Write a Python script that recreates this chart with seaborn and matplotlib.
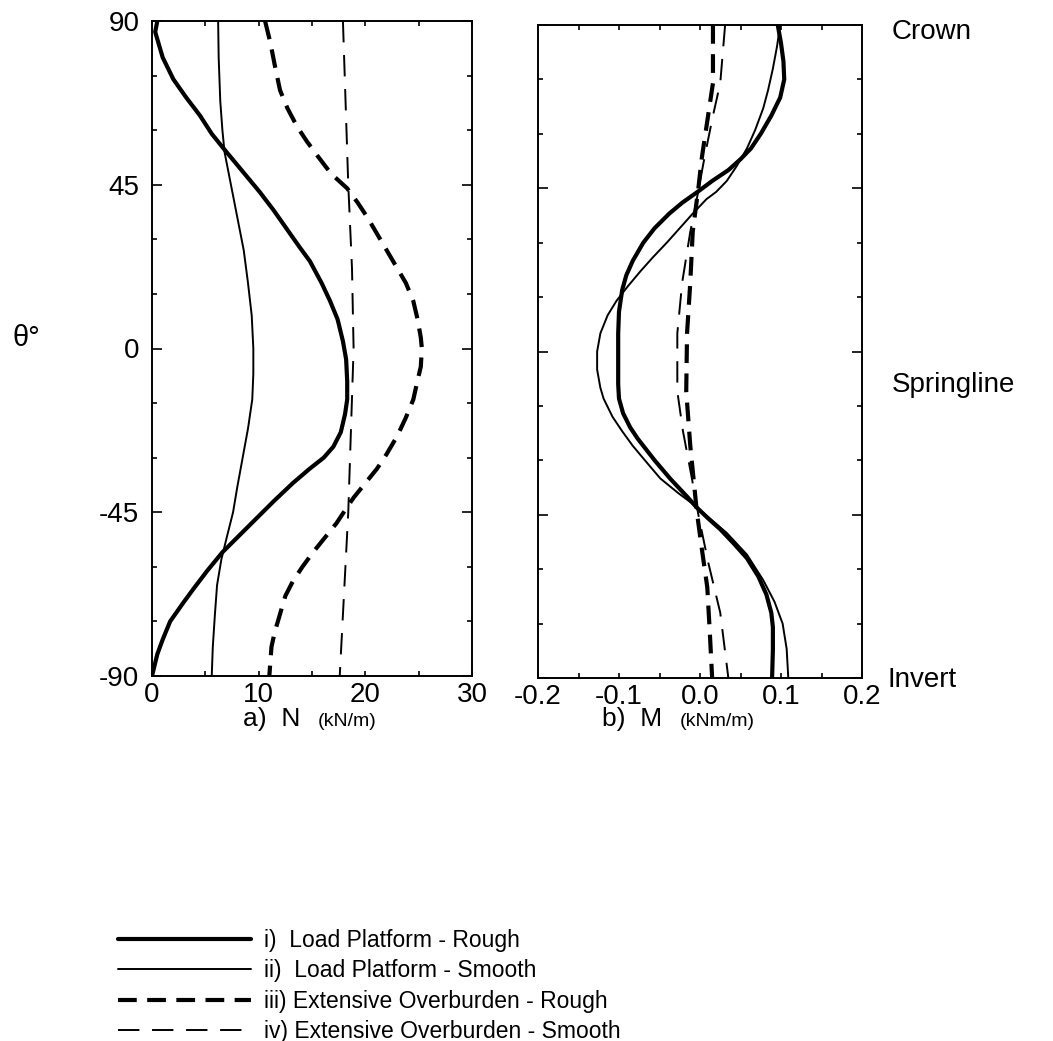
import numpy as np
import pandas as pd
import seaborn as sns
import matplotlib.pyplot as plt
from matplotlib.ticker import MultipleLocator, FixedLocator
from matplotlib.lines import Line2D

# a) hoop force N (kN/m) vs angle theta (deg)
theta_n_i = [90, 87, 80, 74, 69, 64, 59, 55, 49, 43, 38, 33, 28, 24, 18, 13, 8, 2, -3, -9, -14, -18, -23, -27,
             -30, -33, -37, -42, -49, -56, -61, -66, -70, -75, -80, -84, -90]
n_i = [0.5, 0.3, 1.0, 2.0, 3.2, 4.5, 5.6, 6.7, 8.4, 10.1, 11.4, 12.6, 13.8, 14.8, 15.9, 16.7, 17.4, 17.9, 18.2,
       18.3, 18.3, 18.1, 17.7, 17.0, 16.1, 14.8, 13.2, 11.4, 9.0, 6.6, 5.2, 3.9, 2.9, 1.7, 1.0, 0.5, 0.0]

theta_n_ii = [90, 80, 68, 60, 54, 45, 36, 27, 18, 9, 0, -7, -14, -22, -30, -38, -45, -52, -58, -65, -73, -82, -90]
n_ii = [6.2, 6.25, 6.4, 6.6, 6.8, 7.4, 8.0, 8.6, 9.0, 9.35, 9.5, 9.5, 9.4, 9.0, 8.5, 8.0, 7.6, 7.0, 6.5, 6.1,
        5.9, 5.7, 5.6]

theta_n_iii = [90, 84, 78, 71, 66, 61, 57, 53, 48, 44, 40, 36, 31, 27, 22, 18, 13, 8, 3, 0, -5, -10, -14, -19,
               -24, -29, -33, -37, -41, -44, -48, -52, -56, -60, -64, -68, -73, -78, -82, -90]
n_iii = [10.6, 11.1, 11.5, 12.0, 12.7, 13.6, 14.5, 15.5, 16.8, 18.3, 19.3, 20.2, 21.2, 22.0, 23.0, 23.8, 24.5,
         24.9, 25.2, 25.3, 25.2, 24.8, 24.5, 23.8, 23.0, 22.0, 21.1, 20.0, 18.9, 18.2, 17.3, 16.2, 15.1, 14.1,
         13.2, 12.5, 12.0, 11.5, 11.2, 11.0]

theta_n_iv = [90, 45, 22, 0, -27, -45, -90]
n_iv = [17.9, 18.4, 18.75, 18.9, 18.6, 18.4, 17.6]

# b) bending moment M (kNm/m) vs angle theta (deg)
theta_m_i = [90, 85, 80, 75, 70, 65, 60, 56, 53, 50, 47, 44, 41, 38, 34, 30, 25, 21, 17, 11, 5, -2, -9, -13, -17,
             -21, -24, -30, -35, -40, -43, -46, -49, -53, -57, -62, -67, -72, -76, -82, -90]
m_i = [0.096, 0.100, 0.103, 0.104, 0.099, 0.088, 0.075, 0.063, 0.050, 0.035, 0.015, -0.003, -0.022, -0.038,
       -0.056, -0.070, -0.083, -0.091, -0.096, -0.100, -0.101, -0.101, -0.101, -0.100, -0.095, -0.086, -0.077,
       -0.056, -0.037, -0.016, -0.004, 0.010, 0.025, 0.042, 0.058, 0.072, 0.082, 0.088, 0.090, 0.090, 0.089]

theta_m_ii = [90, 84, 78, 72, 67, 61, 56, 51, 47, 44, 42, 38, 34, 30, 26, 22, 18, 14, 10, 5, 0, -5, -10, -13,
              -18, -22, -26, -30, -35, -39, -42, -46, -50, -56, -63, -69, -75, -82, -90]
m_ii = [0.099, 0.095, 0.090, 0.084, 0.078, 0.068, 0.058, 0.045, 0.033, 0.020, 0.008, -0.009, -0.025, -0.041,
        -0.058, -0.074, -0.089, -0.103, -0.114, -0.123, -0.127, -0.127, -0.123, -0.119, -0.108, -0.096, -0.083,
        -0.068, -0.049, -0.027, -0.009, 0.012, 0.033, 0.058, 0.078, 0.092, 0.102, 0.107, 0.109]

theta_m_iii = [90, 74, 65, 53, 45, 33, 19, 5, -11, -26, -44, -54, -65, -77, -90]
m_iii = [0.016, 0.016, 0.010, 0.002, -0.002, -0.009, -0.012, -0.016, -0.017, -0.012, -0.004, 0.002, 0.009,
         0.012, 0.015]

theta_m_iv = [90, 74, 65, 54, 42, 33, 19, 5, -11, -22, -35, -45, -58, -72, -90]
m_iv = [0.031, 0.025, 0.016, 0.006, -0.004, -0.012, -0.022, -0.028, -0.028, -0.021, -0.010, -0.002, 0.010,
        0.025, 0.035]

case_labels = ["i)  Load Platform - Rough", "ii)  Load Platform - Smooth",
               "iii) Extensive Overburden - Rough", "iv) Extensive Overburden - Smooth"]

sns.set_theme(style="ticks")
plt.rcParams['font.family'] = ['Liberation Sans', 'DejaVu Sans']
plt.rcParams['text.color'] = 'black'
plt.rcParams['axes.labelcolor'] = 'black'
plt.rcParams['xtick.color'] = 'black'
plt.rcParams['ytick.color'] = 'black'

# line look for each case: (linewidth, linestyle)
styles = [(3.0, '-'), (1.4, '-'), (3.0, (0, (4.5, 2.5))), (1.4, (0, (11, 6.5)))]

fig = plt.figure(figsize=(10.53, 10.41), dpi=100)
W, H = 1053, 1041
ax_n = fig.add_axes([152 / W, 1 - 676 / H, 320 / W, 655 / H])
ax_m = fig.add_axes([538 / W, 1 - 678 / H, 324 / W, 653 / H])

n_sets = [(n_i, theta_n_i), (n_ii, theta_n_ii), (n_iii, theta_n_iii), (n_iv, theta_n_iv)]
m_sets = [(m_i, theta_m_i), (m_ii, theta_m_ii), (m_iii, theta_m_iii), (m_iv, theta_m_iv)]

for ax, sets in [(ax_n, n_sets), (ax_m, m_sets)]:
    for (xv, yv), (lw, ls) in zip(sets, styles):
        df = pd.DataFrame({'x': xv, 'theta': yv})
        sns.lineplot(data=df, x='x', y='theta', sort=False, estimator=None, ax=ax,
                     color='black', linewidth=lw, linestyle=ls)

ax_n.set_xlim(0, 30)
ax_m.set_xlim(-0.2, 0.2)
for ax in (ax_n, ax_m):
    ax.set_ylim(-90, 90)
    ax.set_xlabel('')
    ax.set_ylabel('')
    ax.yaxis.set_major_locator(FixedLocator([-90, -45, 0, 45, 90]))
    ax.yaxis.set_minor_locator(MultipleLocator(15))
    ax.tick_params(axis='both', which='both', direction='in', top=True, right=True,
                   colors='black', labelsize=20, width=1.2)
    ax.tick_params(axis='y', which='major', length=7, pad=9)
    ax.tick_params(axis='y', which='minor', length=3.5)
    ax.tick_params(axis='x', which='both', length=3.5, pad=4)
    for sp in ax.spines.values():
        sp.set_linewidth(1.4)
        sp.set_color('black')

ax_n.set_xticks([0, 10, 20, 30])
ax_n.xaxis.set_minor_locator(MultipleLocator(5))
ax_m.set_xticks([-0.2, -0.1, 0.0, 0.1, 0.2])
ax_m.set_xticklabels(['-0.2', '-0.1', '0.0', '0.1', '0.2'])
ax_m.xaxis.set_minor_locator(MultipleLocator(0.05))
ax_n.set_yticklabels(['-90', '-45', '0', '45', '90'])
ax_m.tick_params(axis='y', labelleft=False)

# axis titles and position names
fig.text(300 / W, 1 - 719 / H, 'a)  N', fontsize=19, ha='right', va='center')
fig.text(318 / W, 1 - 721 / H, '(kN/m)', fontsize=14, ha='left', va='center')
fig.text(662 / W, 1 - 719 / H, 'b)  M', fontsize=19, ha='right', va='center')
fig.text(680 / W, 1 - 721 / H, '(kNm/m)', fontsize=14, ha='left', va='center')
fig.text(12 / W, 1 - 338 / H, 'θ°', fontsize=21, ha='left', va='center')
fig.text(892 / W, 1 - 32 / H, 'Crown', fontsize=20, ha='left', va='center')
fig.text(892 / W, 1 - 385 / H, 'Springline', fontsize=20, ha='left', va='center')
fig.text(888 / W, 1 - 680 / H, 'Invert', fontsize=20, ha='left', va='center')

handles = [Line2D([], [], color='black', linewidth=lw, linestyle=ls) for lw, ls in styles]
fig.legend(handles, case_labels, loc='upper left', bbox_to_anchor=(118 / W, 1 - 929 / H),
           frameon=False, fontsize=16.5, handlelength=5.8, handletextpad=0.55,
           labelspacing=0.32, borderpad=0, borderaxespad=0)

fig.savefig('out.png', dpi=100)
